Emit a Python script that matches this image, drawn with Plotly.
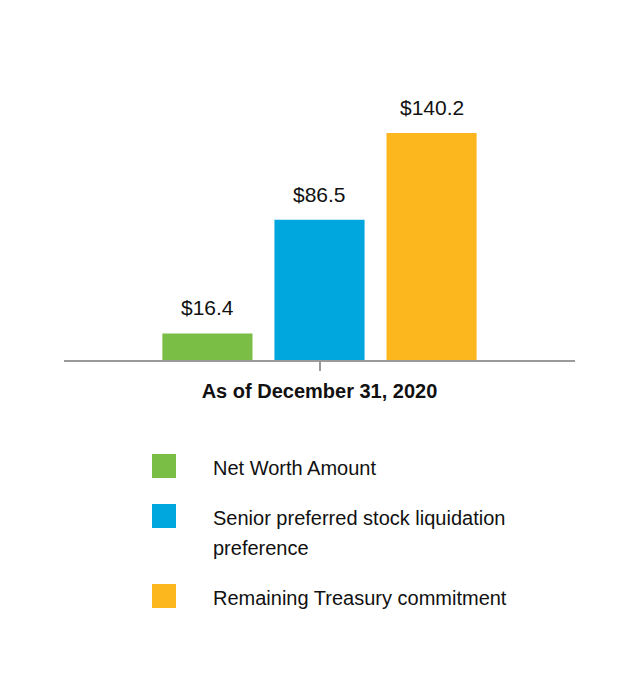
import plotly.graph_objects as go

categories = ["As of December 31, 2020"]
series_names = ["Net Worth Amount",
                "Senior preferred stock liquidation<br>preference",
                "Remaining Treasury commitment"]
series_values = [16.4, 86.5, 140.2]
series_colors = ["#7ABE46", "#00A6DE", "#FDB71E"]

# page body has an 8px margin, so the figure is drawn at offset (8, 8)
OFF = 8
W, H = 636 - OFF, 696 - OFF
ML, MR, MT, MB = 64 - OFF, 61, 117 - OFF, 336
PW, PH = W - ML - MR, H - MT - MB

def px_x(p):
    return (p - OFF - ML) / PW

def px_y(p):
    return (H - MB - (p - OFF)) / PH

FONT = "Liberation Sans, Arial, sans-serif"

fig = go.Figure()
for name, val, col in zip(series_names, series_values, series_colors):
    fig.add_trace(go.Bar(x=categories, y=[val], name=name, marker_color=col,
                         marker_line_width=0, showlegend=False))

# value labels
shifts = [-112, 0, 112]
for val, sh in zip(series_values, shifts):
    fig.add_annotation(x=categories[0], y=val, xref="x", yref="y", text=f"${val:.1f}",
                       showarrow=False, yanchor="bottom", xshift=sh, yshift=12,
                       font=dict(size=21, color="#111", family=FONT))

# custom legend
leg_y = [466, 516, 596]
LINE_GAP = 30
for name, col, cy in zip(series_names, series_colors, leg_y):
    fig.add_shape(type="rect", xref="paper", yref="paper",
                  x0=px_x(152), x1=px_x(176), y0=px_y(cy + 12), y1=px_y(cy - 12),
                  fillcolor=col, line_width=0)
    for i, line in enumerate(name.split("<br>")):
        fig.add_annotation(xref="paper", yref="paper", x=px_x(211),
                           y=px_y(cy + 2 + i * LINE_GAP), yanchor="middle", xanchor="left",
                           text=line, showarrow=False, align="left",
                           font=dict(size=20, color="#111", family=FONT))

fig.update_layout(
    width=W, height=H,
    margin=dict(l=ML, r=MR, t=MT, b=MB),
    paper_bgcolor="white", plot_bgcolor="white",
    barmode="group", bargap=0.342, bargroupgap=0.196,
    font=dict(family=FONT, color="#111"),
)
fig.update_xaxes(showline=True, linecolor="#9a9a9a", linewidth=2,
                 ticks="outside", ticklen=9, tickcolor="#9a9a9a", tickwidth=2,
                 ticklabelstandoff=3,
                 tickfont=dict(size=20, color="#111", family=FONT),
                 tickvals=categories, ticktext=[f"<b>{c}</b>" for c in categories],
                 showgrid=False)
fig.update_yaxes(range=[0, 150], visible=False, showgrid=False, zeroline=False)

fig.write_html("out.html")
